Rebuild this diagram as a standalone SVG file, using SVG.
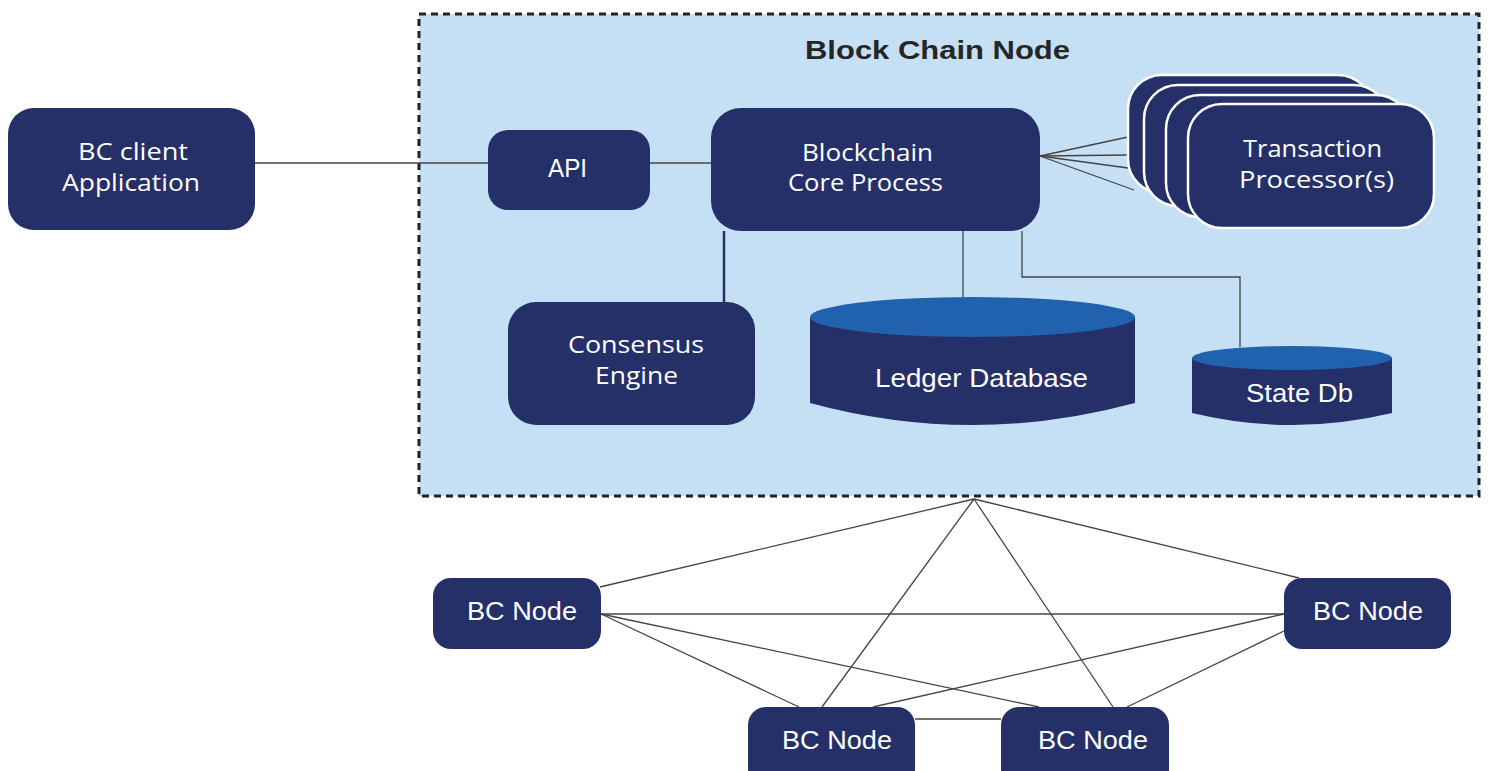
<svg xmlns="http://www.w3.org/2000/svg" width="1490" height="771" viewBox="0 0 1490 771">
<style>
.n{fill:#252F68}
.tp{fill:#252F68;stroke:#ffffff;stroke-width:2.5}
.t{font-family:"Open Sans","Noto Sans","Liberation Sans",sans-serif;font-size:24px;fill:#ffffff;text-anchor:middle}
.a{font-family:"Liberation Sans",Arial,sans-serif;font-size:25px;fill:#ffffff;text-anchor:middle}
.c{stroke:#444444;stroke-width:1.3;fill:none}
.cyl{fill:#2062AE}
</style>
<rect width="1490" height="771" fill="#ffffff"/>
<g id="container">
<rect x="419" y="14" width="1060" height="482" fill="#C5E0F4" stroke="#222222" stroke-width="3" stroke-dasharray="7,5"/>
<text x="937.5" y="59" font-family="'Liberation Sans',Arial,sans-serif" font-size="25" font-weight="bold" fill="#262626" text-anchor="middle" textLength="265" lengthAdjust="spacingAndGlyphs">Block Chain Node</text>
</g>
<g id="connectors">
<line class="c" x1="255" y1="163" x2="488" y2="163"/>
<line class="c" x1="650" y1="163" x2="711" y2="163"/>
<line class="c" x1="1040" y1="156" x2="1128" y2="137"/>
<line class="c" x1="1040" y1="156" x2="1128" y2="155"/>
<line class="c" x1="1040" y1="156" x2="1128" y2="168"/>
<line class="c" x1="1040" y1="156" x2="1134" y2="190"/>
<line x1="724" y1="231" x2="724" y2="302" stroke="#252F68" stroke-width="2.5"/>
<line class="c" x1="963" y1="231" x2="963" y2="297"/>
<polyline class="c" points="1022,231 1022,277 1240,277 1240,347"/>
<line class="c" x1="974" y1="499" x2="600" y2="587"/>
<line class="c" x1="974" y1="499" x2="1299" y2="578"/>
<line class="c" x1="974" y1="499" x2="822" y2="707"/>
<line class="c" x1="974" y1="499" x2="1113" y2="707"/>
<line class="c" x1="601" y1="614" x2="1284" y2="614" stroke-width="1.8"/>
<line class="c" x1="601" y1="614" x2="799" y2="707"/>
<line class="c" x1="601" y1="614" x2="1039" y2="707"/>
<line class="c" x1="1284" y1="614" x2="873" y2="707"/>
<line class="c" x1="1284" y1="631" x2="1127" y2="707" stroke-width="1.8"/>
<line class="c" x1="915" y1="719" x2="1001" y2="719" stroke-width="2"/>
</g>
<g id="bc-client">
<rect class="n" x="8" y="108" width="247" height="122" rx="26"/>
<text class="t" x="133" y="160" textLength="110" lengthAdjust="spacingAndGlyphs">BC client</text>
<text class="t" x="131" y="191" textLength="138" lengthAdjust="spacingAndGlyphs">Application</text>
</g>
<g id="api">
<rect class="n" x="488" y="130" width="162" height="80" rx="20"/>
<text class="a" x="567.5" y="177" textLength="39" lengthAdjust="spacingAndGlyphs">API</text>
</g>
<g id="core">
<rect class="n" x="711" y="108" width="329" height="123" rx="30"/>
<text class="t" x="867.5" y="161" textLength="131" lengthAdjust="spacingAndGlyphs">Blockchain</text>
<text class="t" x="865.5" y="191" textLength="155" lengthAdjust="spacingAndGlyphs">Core Process</text>
</g>
<g id="transaction-processors">
<rect class="tp" x="1128" y="75" width="244" height="118" rx="34"/>
<rect class="tp" x="1144" y="85" width="244" height="121" rx="34"/>
<rect class="tp" x="1166" y="95" width="244" height="122" rx="34"/>
<rect class="tp" x="1188" y="104" width="246" height="124" rx="34"/>
<text class="t" x="1312.5" y="157" textLength="139" lengthAdjust="spacingAndGlyphs">Transaction</text>
<text class="t" x="1316.5" y="188" textLength="155" lengthAdjust="spacingAndGlyphs">Processor(s)</text>
</g>
<g id="consensus">
<rect class="n" x="508" y="302" width="247" height="123" rx="28"/>
<text class="t" x="636" y="353" textLength="136" lengthAdjust="spacingAndGlyphs">Consensus</text>
<text class="t" x="636.5" y="384" textLength="83" lengthAdjust="spacingAndGlyphs">Engine</text>
</g>
<g id="ledger">
<path class="n" d="M810,317 L810,403 Q972,447 1135,403 L1135,317 Z"/>
<ellipse class="cyl" cx="972.5" cy="317" rx="162.5" ry="20"/>
<text class="a" x="981.5" y="387" textLength="213" lengthAdjust="spacingAndGlyphs">Ledger Database</text>
</g>
<g id="state-db">
<path class="n" d="M1192,358 L1192,413 Q1292,437 1392,413 L1392,358 Z"/>
<ellipse class="cyl" cx="1292" cy="358" rx="100" ry="12"/>
<text class="a" x="1299.5" y="402" textLength="107" lengthAdjust="spacingAndGlyphs">State Db</text>
</g>
<g id="node-left">
<rect class="n" x="433" y="578" width="168" height="71" rx="18"/>
<text class="a" x="522" y="620" textLength="110" lengthAdjust="spacingAndGlyphs">BC Node</text>
</g>
<g id="node-right">
<rect class="n" x="1284" y="578" width="167" height="71" rx="18"/>
<text class="a" x="1368" y="620" textLength="110" lengthAdjust="spacingAndGlyphs">BC Node</text>
</g>
<g id="node-bottom-left">
<rect class="n" x="748" y="707" width="167" height="80" rx="18"/>
<text class="a" x="837" y="749" textLength="110" lengthAdjust="spacingAndGlyphs">BC Node</text>
</g>
<g id="node-bottom-right">
<rect class="n" x="1001" y="707" width="168" height="80" rx="18"/>
<text class="a" x="1093" y="749" textLength="110" lengthAdjust="spacingAndGlyphs">BC Node</text>
</g>
</svg>
